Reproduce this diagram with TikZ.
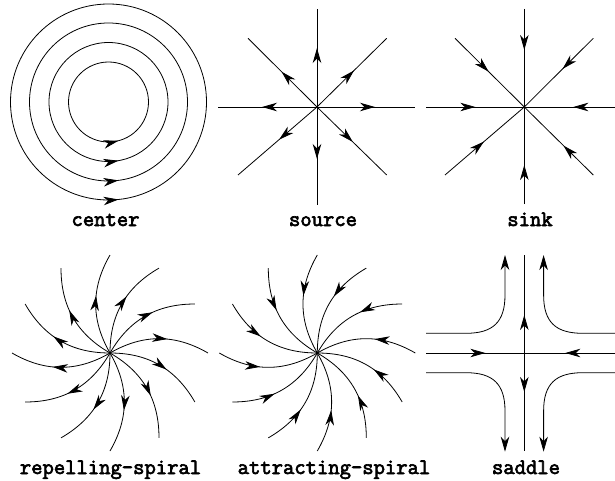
\documentclass[tikz,border=0pt]{standalone}
\usepackage{fontspec}
\newfontfamily\labfont[FakeBold=3]{Latin Modern Mono}
\usetikzlibrary{arrows.meta,decorations.markings,calc}
\begin{document}
\begin{tikzpicture}[x=1pt,y=1pt,line width=0.8pt,
  >={Stealth[length=15pt,width=8.5pt,inset=4.5pt]},
  arrowat/.style={postaction=decorate,decoration={markings,mark=at position #1 with {\arrow{>}}}},
  lab/.style={font=\labfont\fontsize{22}{24}\selectfont,anchor=base,inner sep=0pt}]
\useasboundingbox (0,0) rectangle (615,480);
% ---- center
\coordinate (C1) at (108.5,378);
\foreach \r in {40,59.5,79,98}
  \draw[arrowat=10pt] ($(C1)+(-90:\r)$) arc[start angle=-90,end angle=270,radius=\r];
% ---- source
\coordinate (S) at (317,373);
\coordinate (Sl) at (218,373);
\coordinate (Sr) at (415,373);
\coordinate (St) at (317,471);
\coordinate (Sb) at (317,275);
\coordinate (Stl) at (248,441.7);
\coordinate (Str) at (386.7,441.7);
\coordinate (Sbl) at (238,305);
\coordinate (Sbr) at (386.7,305);
\foreach \e/\d in {Sl/55,Sr/58,St/59,Sb/52,Stl/50,Str/52,Sbl/50,Sbr/50}
  \draw[arrowat=\d pt] (S) -- (\e);
% ---- sink
\coordinate (K) at (524.3,373);
\coordinate (Kl) at (426,373);
\coordinate (Kr) at (615,373);
\coordinate (Kt) at (524.3,471);
\coordinate (Kb) at (524.3,276);
\coordinate (Ktl) at (455,441.7);
\coordinate (Ktr) at (593.3,441.7);
\coordinate (Kbl) at (445,305);
\coordinate (Kbr) at (593.3,305);
\foreach \e/\d in {Kl/49,Kr/49,Kt/57,Kb/58,Ktl/50,Ktr/54,Kbl/53,Kbr/55}
  \draw[arrowat=-\d pt] (\e) -- (K);
% ---- repelling spiral
\coordinate (R) at (110,127);
\foreach \a in {0,30,...,330}
  \draw[arrowat=0.58] (R) to[bend left=30] ($(R)+(\a:98)$);
% ---- attracting spiral
\coordinate (A) at (317.3,127);
\foreach \a in {0,30,...,330}
  \draw[arrowat=0.42] ($(A)+(\a:98)$) to[bend right=30] (A);
% ---- saddle
\coordinate (D) at (524.3,127);
\coordinate (Dl) at (426,127);
\coordinate (Dr) at (615,127);
\coordinate (Dt) at (524.3,225);
\coordinate (Db) at (524.3,29);
\draw[arrowat=-39pt] (Dl) -- (D);
\draw[arrowat=-41pt] (Dr) -- (D);
\draw[arrowat=38pt] (D) -- (Dt);
\draw[arrowat=39pt] (D) -- (Db);
\draw[->] (426,146.7) -- (466,146.7) .. controls (493,146.7) and (505,158) .. (505,185) -- (505,225);
\draw[->] (615,146.7) -- (582.6,146.7) .. controls (555.6,146.7) and (543.6,158) .. (543.6,185) -- (543.6,225);
\draw[->] (426,107.3) -- (466,107.3) .. controls (493,107.3) and (505,96) .. (505,69) -- (505,28.3);
\draw[->] (615,107.3) -- (582.6,107.3) .. controls (555.6,107.3) and (543.6,96) .. (543.6,69) -- (543.6,28.3);
% ---- labels
\node[lab] (lc) at (105.5,254) {center};
\node[lab] (ls) at (323,254) {source};
\node[lab] (lk) at (530,254) {sink};
\node[lab] (lr) at (110.5,6) {repelling-spiral};
\node[lab] (la) at (334,6) {attracting-spiral};
\node[lab] (ld) at (526,6) {saddle};
\end{tikzpicture}
\end{document}
